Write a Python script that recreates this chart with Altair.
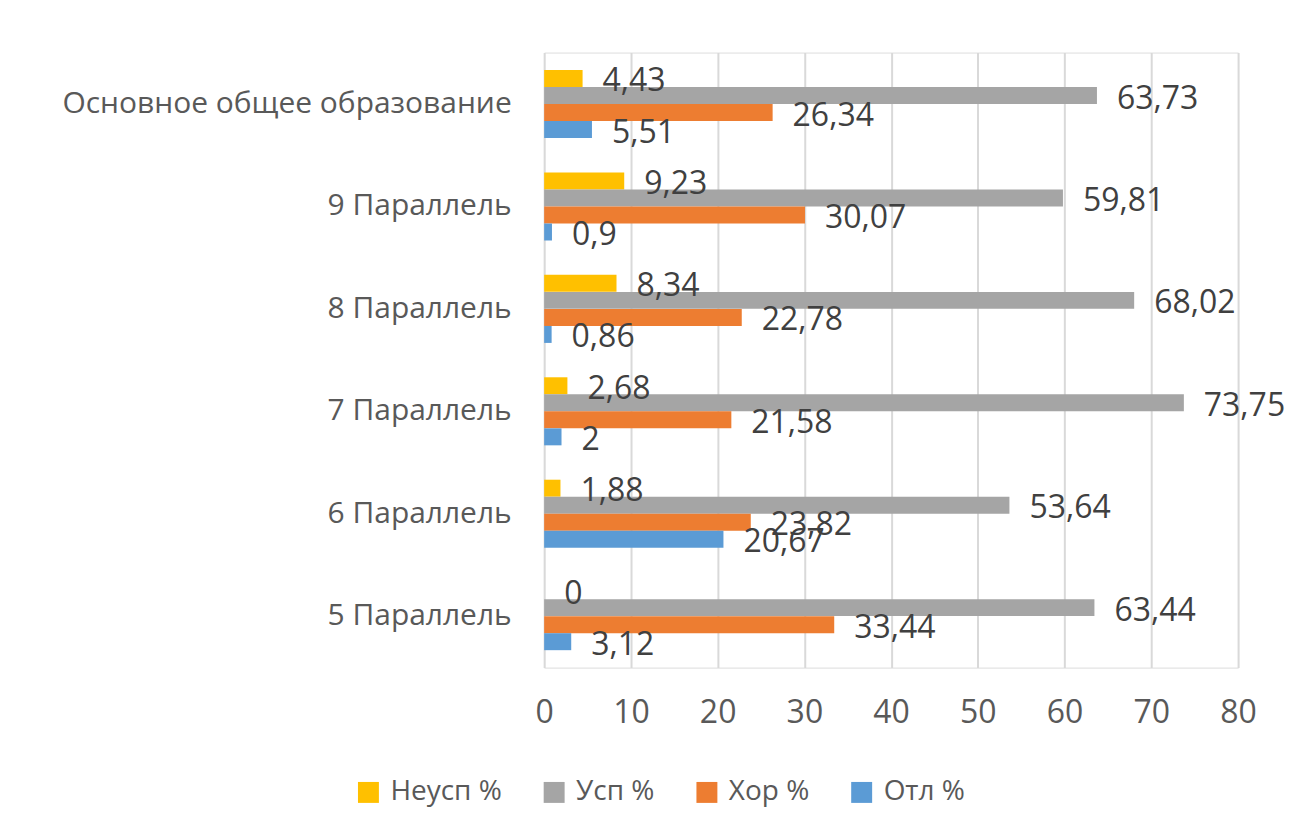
import altair as alt
import pandas as pd

categories = ["Основное общее образование", "9 Параллель", "8 Параллель",
              "7 Параллель", "6 Параллель", "5 Параллель"]
series = ["Неусп %", "Усп %", "Хор %", "Отл %"]
neusp = [4.43, 9.23, 8.34, 2.68, 1.88, 0]
usp = [63.73, 59.81, 68.02, 73.75, 53.64, 63.44]
hor = [26.34, 30.07, 22.78, 21.58, 23.82, 33.44]
otl = [5.51, 0.9, 0.86, 2, 20.67, 3.12]
colors = ["#FFC000", "#A5A5A5", "#ED7D31", "#5B9BD5"]

rows = []
for s, vals in zip(series, [neusp, usp, hor, otl]):
    for c, v in zip(categories, vals):
        lab = ("%g" % v).replace(".", ",")
        rows.append({"cat": c, "series": s, "value": v, "label": lab})
df = pd.DataFrame(rows)

FONT = "Open Sans"

y_enc = alt.Y("cat:N", sort=categories, title=None,
              scale=alt.Scale(paddingInner=0.335, paddingOuter=0.17),
              axis=alt.Axis(labelFontSize=30, labelColor="#595959", labelFont=FONT,
                            labelLimit=800, labelPadding=33, ticks=False,
                            domain=False, grid=False))
yoff = alt.YOffset("series:N", sort=series)
x_enc = alt.X("value:Q", title=None,
              scale=alt.Scale(domain=[0, 80], nice=False),
              axis=alt.Axis(values=list(range(0, 81, 10)), labelFontSize=32,
                            labelColor="#595959", labelFont=FONT, labelPadding=30,
                            labelFlush=False, labelOverlap=False,
                            ticks=False, domain=False, gridColor="#D9D9D9",
                            gridWidth=2))

bars = alt.Chart(df).mark_bar(size=17).encode(
    y=y_enc, yOffset=yoff, x=x_enc,
    color=alt.Color("series:N", sort=series,
                    scale=alt.Scale(domain=series, range=colors),
                    legend=alt.Legend(title=None, orient="none", legendX=-190,
                                      legendY=727, direction="horizontal",
                                      symbolType="square", symbolSize=440,
                                      symbolStrokeWidth=0,
                                      labelFontSize=28, labelFont=FONT,
                                      labelColor="#595959", columnPadding=38,
                                      labelOffset=8))
)

texts = alt.Chart(df).mark_text(align="left", baseline="middle", dx=20, dy=3,
                                fontSize=32, font=FONT, color="#404040").encode(
    y=alt.Y("cat:N", sort=categories), yOffset=yoff, x="value:Q", text="label:N"
)

chart = (bars + texts).properties(
    width=695, height=616,
    autosize=alt.AutoSizeParams(type="none"),
    padding={"left": 537, "top": 44, "right": 50, "bottom": 170},
).configure_view(stroke=None).configure(background="white")

chart.save("out.html", embed_options={"renderer": "svg", "actions": False})
